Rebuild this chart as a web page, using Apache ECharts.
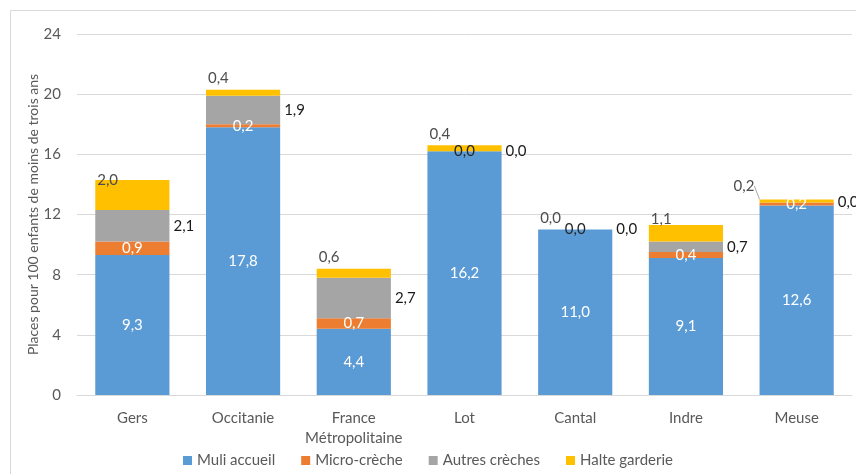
<!DOCTYPE html>
<html>
<head>
<meta charset="utf-8">
<script src="https://cdn.jsdelivr.net/npm/echarts@6/dist/echarts.min.js"></script>
<style>
  html, body { margin: 0; padding: 0; background: #fff; }
  #chart { width: 856px; height: 474px; }
</style>
</head>
<body>
<div id="chart"></div>
<script>
const categories = ['Gers', 'Occitanie', 'France\nMétropolitaine', 'Lot', 'Cantal', 'Indre', 'Meuse'];
const muliAccueil = [9.3, 17.8, 4.4, 16.2, 11.0, 9.1, 12.6];
const microCreche = [0.9, 0.2, 0.7, 0.0, 0.0, 0.4, 0.2];
const autresCreches = [2.1, 1.9, 2.7, 0.0, 0.0, 0.7, 0.0];
const halteGarderie = [2.0, 0.4, 0.6, 0.4, 0.0, 1.1, 0.2];
const yTicks = [0, 4, 8, 12, 16, 20, 24];

const FONT = 'Lato';
const FS = 15;
const fmt = (p) => p.value.toFixed(1).replace('.', ',');

const chart = echarts.init(document.getElementById('chart'));

const option = {
  animation: false,
  textStyle: { fontFamily: FONT },
  graphic: [{
    type: 'rect',
    shape: { x: 10.5, y: 10.5, width: 900, height: 500 },
    style: { fill: 'none', stroke: '#d9d9d9', lineWidth: 1 },
    silent: true
  }],
  grid: { left: 77, right: 4, top: 34, bottom: 79 },
  legend: {
    bottom: 1,
    left: 'center',
    icon: 'rect',
    itemWidth: 9,
    itemHeight: 9,
    itemGap: 26,
    textStyle: { color: '#595959', fontSize: FS, fontFamily: FONT },
    data: ['Muli accueil', 'Micro-crèche', 'Autres crèches', 'Halte garderie']
  },
  xAxis: {
    type: 'category',
    data: categories,
    axisLine: { lineStyle: { color: '#d9d9d9' } },
    axisTick: { show: false },
    axisLabel: { color: '#595959', fontSize: FS, margin: 13, lineHeight: 20, interval: 0 }
  },
  yAxis: {
    type: 'value',
    min: yTicks[0],
    max: yTicks[yTicks.length - 1],
    interval: 4,
    name: 'Places pour 100 enfants de moins de trois ans',
    nameLocation: 'middle',
    nameGap: 37,
    nameMoveOverlap: false,
    nameTextStyle: { color: '#595959', fontSize: 14 },
    axisLine: { show: false },
    axisTick: { show: false },
    axisLabel: { color: '#595959', fontSize: FS, margin: 16 },
    splitLine: { lineStyle: { color: '#d9d9d9' } }
  },
  series: [
    {
      name: 'Muli accueil',
      type: 'bar',
      stack: 'total',
      barWidth: '67%',
      data: muliAccueil,
      itemStyle: { color: '#5b9bd5' },
      label: { show: true, position: 'inside', color: '#fff', fontSize: FS, formatter: fmt }
    },
    {
      name: 'Micro-crèche',
      type: 'bar',
      stack: 'total',
      data: microCreche.map(v => ({
        value: v,
        label: { color: v === 0 ? '#262626' : '#fff' }
      })),
      itemStyle: { color: '#ed7d31' },
      label: { show: true, position: 'inside', fontSize: FS, formatter: fmt }
    },
    {
      name: 'Autres crèches',
      type: 'bar',
      stack: 'total',
      data: autresCreches,
      itemStyle: { color: '#a5a5a5' },
      label: { show: true, position: 'right', distance: 4, color: '#1a1a1a', fontSize: FS, formatter: fmt }
    },
    {
      name: 'Halte garderie',
      type: 'bar',
      stack: 'total',
      data: halteGarderie.map((v, i) => ({
        value: v,
        labelLine: { show: i === categories.length - 1 }
      })),
      itemStyle: { color: '#ffc000' },
      label: { show: true, position: [2, -19], color: '#4d4d4d', fontSize: FS, formatter: fmt },
      labelLine: { show: false, lineStyle: { color: '#a6a6a6', width: 1 } },
      labelLayout: function (p) {
        if (p.dataIndex === 0) return { dy: 12 };
        if (p.dataIndex === 5) return { dy: 6 };
        if (p.dataIndex === 6) return { dx: -28, dy: -2 };
        return {};
      }
    }
  ]
};

chart.setOption(option);
</script>
</body>
</html>
